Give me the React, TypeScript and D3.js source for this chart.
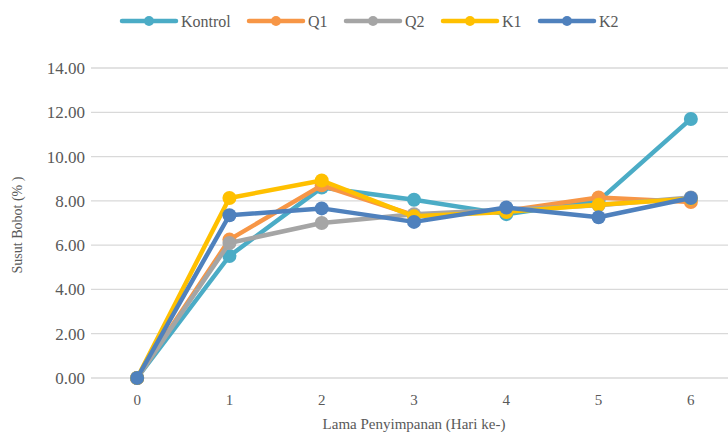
import React from "react";
import * as d3 from "d3";

const days = [0, 1, 2, 3, 4, 5, 6];
const yTicks = [0, 2, 4, 6, 8, 10, 12, 14];

const seriesNames = ["Kontrol", "Q1", "Q2", "K1", "K2"];
const kontrol = [0, 5.51, 8.6, 8.05, 7.4, 8.0, 11.7];
const q1 = [0, 6.25, 8.7, 7.35, 7.55, 8.15, 7.95];
const q2 = [0, 6.1, 7.0, 7.4, 7.6, 7.8, 8.15];
const k1 = [0, 8.13, 8.92, 7.3, 7.5, 7.82, 8.1];
const k2 = [0, 7.35, 7.66, 7.05, 7.7, 7.26, 8.13];
const seriesColors = ["#4BACC6", "#F79646", "#A5A5A5", "#FFC000", "#4F81BD"];

const allSeries = [kontrol, q1, q2, k1, k2];

const W = 728;
const H = 432;
const FONT = "Liberation Serif";
const TEXT = "#595959";
const textStyle = { fontFamily: FONT };

export default function App() {
  const x = d3.scaleLinear().domain([-0.5, 6.5]).range([91, 737]);
  const y = d3.scaleLinear().domain([0, 14]).range([378, 68]);
  const line = d3
    .line<number>()
    .x((_, i) => x(days[i]))
    .y((v) => y(v));

  const legendX = [122, 249, 346, 443, 540];

  return (
    <svg
      width={W}
      height={H}
      style={{ position: "absolute", left: 0, top: 0, background: "#fff" }}
    >
      <rect width={W} height={H} fill="#fff" />
      {/* horizontal gridlines */}
      {yTicks.map((t) => (
        <line
          key={"g" + t}
          x1={x(-0.5)}
          x2={x(6.5)}
          y1={y(t)}
          y2={y(t)}
          stroke="#D9D9D9"
          strokeWidth={1.3}
        />
      ))}
      {/* y tick labels */}
      {yTicks.map((t) => (
        <text
          key={"yl" + t}
          x={85}
          y={y(t)}
          dy="0.35em"
          textAnchor="end"
          fontSize={17}
          fill={TEXT}
          style={textStyle}
        >
          {t.toFixed(2)}
        </text>
      ))}
      {/* x tick labels */}
      {days.map((d) => (
        <text
          key={"xl" + d}
          x={x(d)}
          y={405}
          textAnchor="middle"
          fontSize={15}
          fill={TEXT}
          style={textStyle}
        >
          {d}
        </text>
      ))}
      <text x={414} y={429} textAnchor="middle" fontSize={15} fill={TEXT} style={textStyle}>
        Lama Penyimpanan  (Hari ke-)
      </text>
      <text
        transform={`translate(22,225) rotate(-90)`}
        textAnchor="middle"
        fontSize={14}
        fill={TEXT}
        style={textStyle}
      >
        Susut Bobot (% )
      </text>
      {/* series */}
      {allSeries.map((s, si) => (
        <g key={"s" + si}>
          <path
            d={line(s) || ""}
            fill="none"
            stroke={seriesColors[si]}
            strokeWidth={4.5}
            strokeLinejoin="round"
            strokeLinecap="round"
          />
          {s.map((v, i) => (
            <circle
              key={i}
              cx={x(days[i])}
              cy={y(v)}
              r={7}
              fill={seriesColors[si]}
            />
          ))}
        </g>
      ))}
      {/* legend */}
      {seriesNames.map((n, i) => (
        <g key={"lg" + n} transform={`translate(${legendX[i]},21)`}>
          <line
            x1={0}
            x2={54}
            y1={0}
            y2={0}
            stroke={seriesColors[i]}
            strokeWidth={4.5}
            strokeLinecap="round"
          />
          <circle cx={27} cy={0} r={5} fill={seriesColors[i]} />
          <text x={59} y={0} dy="0.35em" fontSize={16} fill={TEXT} style={textStyle}>
            {n}
          </text>
        </g>
      ))}
    </svg>
  );
}
